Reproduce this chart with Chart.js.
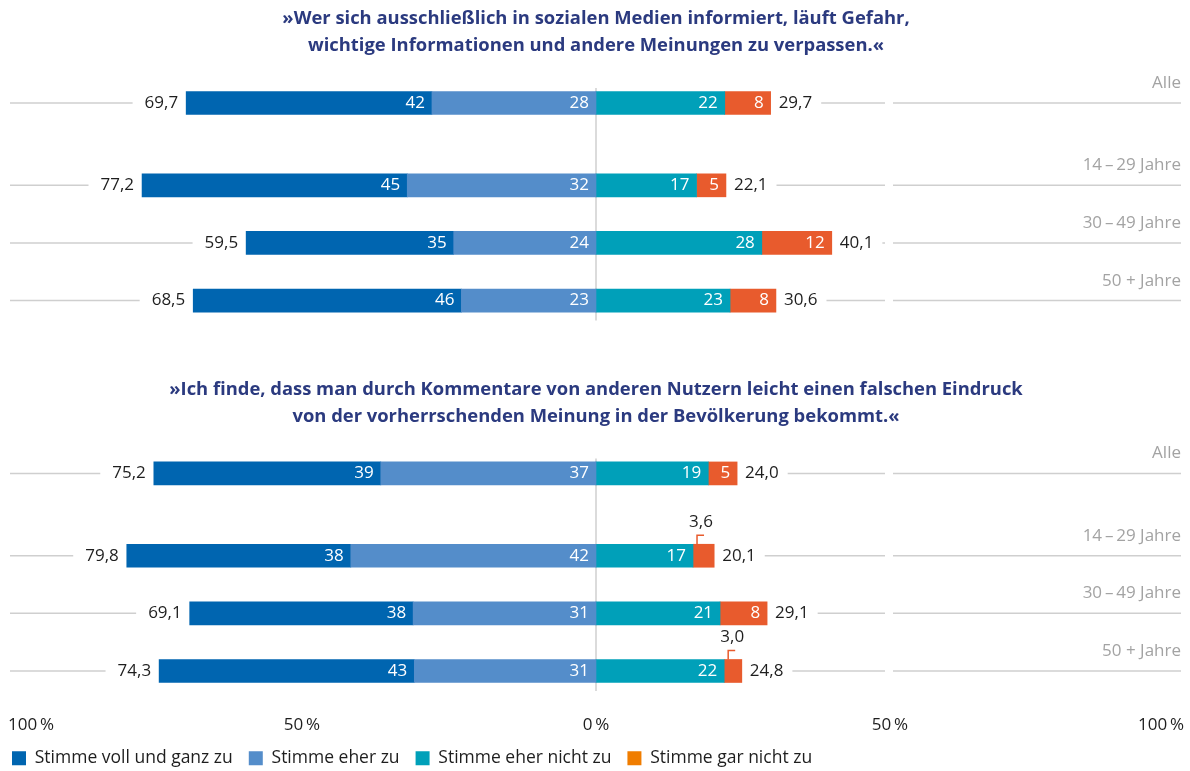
<!DOCTYPE html>
<html><head><meta charset="utf-8">
<script src="https://cdn.jsdelivr.net/npm/chart.js@4.4.0/dist/chart.umd.min.js"></script>
<style>html,body{margin:0;padding:0;background:#fff;overflow:hidden;}#wrap{position:relative;width:1190px;height:777px;}</style>
</head><body><div id="wrap"><canvas id="c" width="1190" height="777"></canvas></div>
<script>
// ---- data ----
const groups = ['Alle', '14\u2009\u2013\u200929 Jahre', '30\u2009\u2013\u200949 Jahre', '50 + Jahre'];
const title1 = ['\u00bbWer sich ausschlie\u00dflich in sozialen Medien informiert, l\u00e4uft Gefahr,', 'wichtige Informationen und andere Meinungen zu verpassen.\u00ab'];
const title2 = ['\u00bbIch finde, dass man durch Kommentare von anderen Nutzern leicht einen falschen Eindruck', 'von der vorherrschenden Meinung in der Bev\u00f6lkerung bekommt.\u00ab'];
const seriesNames = ['Stimme voll und ganz zu', 'Stimme eher zu', 'Stimme eher nicht zu', 'Stimme gar nicht zu'];
// Statement 1
const s1Voll = [41.8, 45.1, 35.3, 45.6];
const s1Eher = [27.9, 32.1, 24.2, 22.9];
const s1EherNicht = [21.9, 17.1, 28.2, 22.8];
const s1GarNicht = [7.8, 5.0, 11.9, 7.8];
// Statement 2
const s2Voll = [38.6, 38.1, 38.0, 43.4];
const s2Eher = [36.6, 41.7, 31.1, 30.9];
const s2EherNicht = [19.1, 16.5, 21.1, 21.8];
const s2GarNicht = [4.9, 3.6, 8.0, 3.0];
const tickValues = [-100, -50, 0, 50, 100];

// ---- styles ----
const FONT = '"Open Sans"';
const colVoll = '#0065b0', colEher = '#548dca', colNicht = '#00a0b9', colGar = '#e85b2d';
const legendColors = ['#0065b0', '#548dca', '#00a0b9', '#f07d00'];
const titleColor = '#2b3a7f', textColor = '#1e1e1e', groupColor = '#a3a3a3', lineColor = '#cfcfcf';

// row layout: slot indices of each group inside a panel, panel offsets (spacer rows between)
const slots = [0, 10, 17, 24];
const panelOffsets = [0, 45];
const N = 70;
function build(a1, a2, sign) {
  const out = new Array(N).fill(null);
  slots.forEach((s, i) => { out[s + panelOffsets[0]] = sign * a1[i]; out[s + panelOffsets[1]] = sign * a2[i]; });
  return out;
}
const rowLabels = new Array(N).fill('');
slots.forEach((s, i) => { rowLabels[s + panelOffsets[0]] = groups[i]; rowLabels[s + panelOffsets[1]] = groups[i]; });

const panels = [
  {title: title1, voll: s1Voll, eher: s1Eher, nicht: s1EherNicht, gar: s1GarNicht},
  {title: title2, voll: s2Voll, eher: s2Eher, nicht: s2EherNicht, gar: s2GarNicht}
];

const datasets = [
  {label: seriesNames[1], data: build(s1Eher, s2Eher, -1), backgroundColor: colEher},
  {label: seriesNames[0], data: build(s1Voll, s2Voll, -1), backgroundColor: colVoll},
  {label: seriesNames[2], data: build(s1EherNicht, s2EherNicht, 1), backgroundColor: colNicht},
  {label: seriesNames[3], data: build(s1GarNicht, s2GarNicht, 1), backgroundColor: colGar}
];
datasets.forEach(d => { d.barThickness = 23; d.borderWidth = 0; d.borderSkipped = false; d.clip = false; });

const fmt1 = v => v.toFixed(1).replace('.', ',');

const overlay = {
  id: 'overlay',
  afterLayout(chart) {
    if (chart.legend) chart.legend.left = -4;
  },
  beforeDatasetsDraw(chart) {
    const {ctx, scales: {x, y}} = chart;
    const x0 = x.getPixelForValue(0);
    ctx.save();
    ctx.strokeStyle = lineColor; ctx.lineWidth = 1.5;
    panelOffsets.forEach(off => {
      const yTop = y.getPixelForValue(slots[0] + off) - 15;
      const yBot = y.getPixelForValue(slots[slots.length - 1] + off) + 20;
      ctx.beginPath(); ctx.moveTo(x0, yTop); ctx.lineTo(x0, yBot); ctx.stroke();
    });
    ctx.restore();
  },
  afterDatasetsDraw(chart) {
    const {ctx, chartArea, scales: {x, y}} = chart;
    const x50 = x.getPixelForValue(50);
    const xMid = x.getPixelForValue(0);
    ctx.save();
    panels.forEach((p, pi) => {
      const off = panelOffsets[pi];
      // titles
      const yAlle = y.getPixelForValue(slots[0] + off);
      ctx.fillStyle = titleColor;
      ctx.font = 'bold 18.4px ' + FONT;
      ctx.textAlign = 'center'; ctx.textBaseline = 'middle';
      ctx.fillText(p.title[0], xMid, yAlle - 84);
      ctx.fillText(p.title[1], xMid, yAlle - 57);

      slots.forEach((s, i) => {
        const slot = s + off;
        const yc = y.getPixelForValue(slot);
        // segment labels
        chart.data.datasets.forEach((ds, di) => {
          const el = chart.getDatasetMeta(di).data[slot];
          if (!el) return;
          const v = Math.abs(ds.data[slot]);
          const l = Math.min(el.x, el.base), r = Math.max(el.x, el.base);
          if (v >= 4.5) {
            ctx.fillStyle = '#ffffff';
            ctx.font = '17px ' + FONT;
            ctx.textAlign = 'right'; ctx.textBaseline = 'middle';
            ctx.fillText(String(Math.round(v)), r - 7, yc);
          } else {
            const yT = yc - el.height / 2;
            ctx.strokeStyle = ds.backgroundColor; ctx.lineWidth = 1.5;
            ctx.beginPath();
            ctx.moveTo(l + 4, yT); ctx.lineTo(l + 4, yT - 9); ctx.lineTo(l + 11, yT - 9);
            ctx.stroke();
            ctx.fillStyle = textColor;
            ctx.font = '17px ' + FONT;
            ctx.textAlign = 'center'; ctx.textBaseline = 'middle';
            ctx.fillText(fmt1(v), l + 8, yT - 22);
          }
        });
        // totals
        const leftTot = p.voll[i] + p.eher[i];
        const rightTot = p.nicht[i] + p.gar[i];
        const xl = x.getPixelForValue(-leftTot);
        const xr = x.getPixelForValue(rightTot);
        ctx.font = '17px ' + FONT;
        ctx.fillStyle = textColor; ctx.textBaseline = 'middle';
        const tl = fmt1(leftTot), tr = fmt1(rightTot);
        ctx.textAlign = 'right'; ctx.fillText(tl, xl - 8, yc);
        ctx.textAlign = 'left'; ctx.fillText(tr, xr + 8, yc);
        const wl = ctx.measureText(tl).width, wr = ctx.measureText(tr).width;
        // gray guide lines
        ctx.strokeStyle = lineColor; ctx.lineWidth = 1.5;
        ctx.beginPath();
        ctx.moveTo(chartArea.left + 2, yc); ctx.lineTo(xl - 8 - wl - 12, yc);
        ctx.moveTo(xr + 8 + wr + 9, yc); ctx.lineTo(x50 - 5, yc);
        ctx.moveTo(x50 + 3, yc); ctx.lineTo(chartArea.right - 3, yc);
        ctx.stroke();
        // group label
        ctx.fillStyle = groupColor;
        ctx.font = '17px ' + FONT;
        ctx.textAlign = 'right'; ctx.textBaseline = 'alphabetic';
        ctx.fillText(groups[i], chartArea.right - 3, yc - 15);
      });
    });
    ctx.restore();
  }
};

new Chart(document.getElementById('c'), {
  type: 'bar',
  data: {labels: rowLabels, datasets},
  options: {
    indexAxis: 'y',
    responsive: false,
    animation: false,
    events: [],
    layout: {padding: {top: 98.9, bottom: 0, left: 0, right: 6}},
    scales: {
      x: {
        type: 'linear', min: -100, max: 100, stacked: true,
        grid: {display: false}, border: {display: false},
        afterBuildTicks: s => { s.ticks = tickValues.map(v => ({value: v})); },
        afterFit: s => { s.height = 58.4; s.paddingLeft = 0; s.paddingRight = 0; },
        ticks: {
          align: 'inner', padding: 32, color: textColor,
          font: {family: 'Open Sans', size: 17},
          callback: v => Math.abs(v) + '\u2009%'
        }
      },
      y: {
        type: 'category', stacked: true,
        grid: {display: false}, border: {display: false},
        ticks: {display: false},
        afterFit: s => { s.width = 8; }
      }
    },
    plugins: {
      tooltip: {enabled: false},
      legend: {
        position: 'bottom', align: 'start',
        labels: {
          boxWidth: 14, boxHeight: 14, padding: 16, color: textColor,
          font: {family: 'Open Sans', size: 17.5},
          generateLabels: () => seriesNames.map((t, i) => ({
            text: t, fillStyle: legendColors[i], strokeStyle: legendColors[i], lineWidth: 0, hidden: false, fontColor: textColor
          }))
        }
      }
    }
  },
  plugins: [overlay]
});
</script></body></html>
